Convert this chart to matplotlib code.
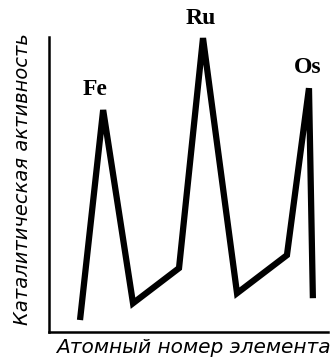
import matplotlib
matplotlib.use('Agg')
import matplotlib.pyplot as plt

# position along the period (arbitrary units) and catalytic activity (arbitrary units)
atomic_pos = [11.1, 19.4, 30.1, 46.6, 55.2, 67.4, 85.3, 93.2, 94.6]
activity = [4.1, 75.3, 9.8, 21.7, 99.7, 13.2, 26.1, 82.7, 11.5]
peak_labels = ['Fe', 'Ru', 'Os']
peak_idx = [1, 4, 7]
label_offset = [(-2.9, 3.5), (-0.7, 3.2), (-0.4, 3.4)]

fig = plt.figure(figsize=(3.36, 3.61), dpi=100)
ax = fig.add_axes([0.146, 0.080, 0.830, 0.817])

ax.plot(atomic_pos, activity, color='black', linewidth=4.5,
        solid_joinstyle='miter', solid_capstyle='butt')

for name, i, (dx, dy) in zip(peak_labels, peak_idx, label_offset):
    ax.text(atomic_pos[i] + dx, activity[i] + dy, name, ha='center', va='bottom',
            fontsize=17, fontweight='bold', family='Liberation Serif', clip_on=False)

ax.set_xlim(0, 100)
ax.set_ylim(0, 100)
ax.set_xticks([])
ax.set_yticks([])
for s in ['top', 'right']:
    ax.spines[s].set_visible(False)
ax.spines['left'].set_linewidth(1.8)
ax.spines['bottom'].set_linewidth(1.8)

ax.set_xlabel('Атомный номер элемента', fontsize=14.5, style='italic',
              loc='right', labelpad=4)
ax.xaxis.label.set_x(1.01)
ax.set_ylabel('Каталитическая активность', fontsize=14, style='italic',
              labelpad=12)
ax.yaxis.label.set_y(0.52)

fig.savefig('out.png', dpi=100, facecolor='white')
